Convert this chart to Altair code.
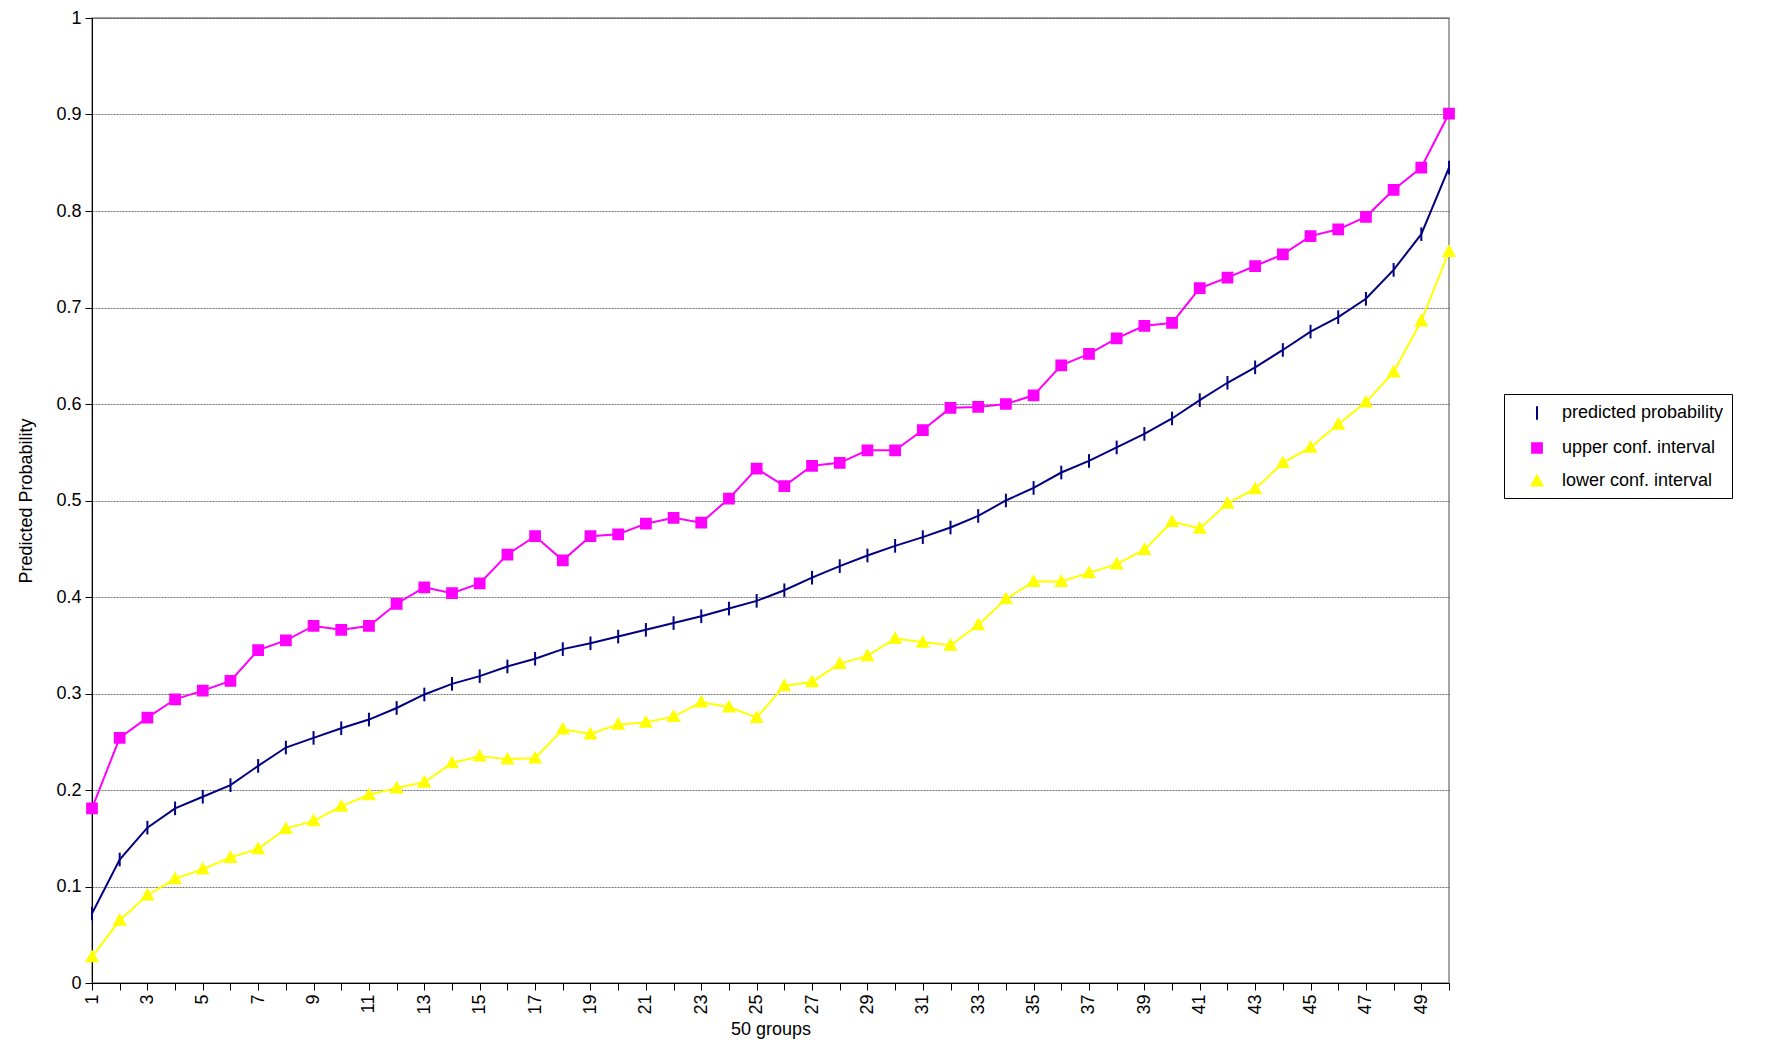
import altair as alt
import pandas as pd

groups = list(range(1, 51))
predicted = [0.072, 0.128, 0.161, 0.181, 0.193, 0.205, 0.225, 0.244, 0.254, 0.264,
             0.273, 0.285, 0.299, 0.310, 0.318, 0.328, 0.336, 0.346, 0.352, 0.359,
             0.366, 0.373, 0.380, 0.388, 0.396, 0.407, 0.420, 0.432, 0.443, 0.453,
             0.462, 0.472, 0.484, 0.500, 0.513, 0.529, 0.541, 0.555, 0.569, 0.585,
             0.604, 0.622, 0.638, 0.656, 0.675, 0.690, 0.709, 0.739, 0.776, 0.845]
upper = [0.181, 0.254, 0.275, 0.294, 0.303, 0.313, 0.345, 0.355, 0.370, 0.366,
         0.370, 0.393, 0.410, 0.404, 0.414, 0.444, 0.463, 0.438, 0.463, 0.465,
         0.476, 0.482, 0.477, 0.502, 0.533, 0.515, 0.536, 0.539, 0.552, 0.552,
         0.573, 0.596, 0.597, 0.600, 0.609, 0.640, 0.652, 0.668, 0.681, 0.684,
         0.720, 0.731, 0.743, 0.755, 0.774, 0.781, 0.794, 0.822, 0.845, 0.901]
lower = [0.027, 0.065, 0.091, 0.108, 0.118, 0.130, 0.139, 0.160, 0.168, 0.183,
         0.195, 0.202, 0.208, 0.228, 0.235, 0.232, 0.233, 0.263, 0.258, 0.268,
         0.270, 0.276, 0.291, 0.286, 0.275, 0.308, 0.312, 0.331, 0.339, 0.357,
         0.353, 0.350, 0.371, 0.398, 0.416, 0.416, 0.425, 0.434, 0.449, 0.478,
         0.471, 0.497, 0.512, 0.539, 0.555, 0.579, 0.602, 0.633, 0.686, 0.758]

series = ["predicted probability", "upper conf. interval", "lower conf. interval"]
colors = ["#000080", "#ff00ff", "#ffff00"]
shapes = ["M0,-0.7V0.7", "M-0.5,-0.5H0.5V0.5H-0.5Z", "M0,-0.55L0.55,0.45H-0.55Z"]

rows = []
for name, vals in zip(series, [predicted, upper, lower]):
    for g, v in zip(groups, vals):
        rows.append({"group": g, "value": v, "series": name})
df = pd.DataFrame(rows)

FONT = "Liberation Sans"
color_scale = alt.Scale(domain=series, range=colors)
legend = alt.Legend(
    title=None, orient="none", legendX=1412, legendY=376,
    strokeColor="black", padding=8, fillColor="white",
    labelFontSize=18, labelFont=FONT, labelColor="black", labelLimit=0,
    symbolSize=380, symbolStrokeWidth=2, rowPadding=13,
    labelOffset=14, symbolOffset=14,
)

base = alt.Chart(df).encode(
    x=alt.X("group:Q", title="50 groups",
            scale=alt.Scale(domain=[1, 50], nice=False, zero=False),
            axis=alt.Axis(values=groups, labelAngle=270, grid=False,
                          labelExpr="datum.value % 2 == 1 ? datum.label : ''",
                          labelAlign="right", labelBaseline="middle")),
    y=alt.Y("value:Q", title="Predicted Probability",
            scale=alt.Scale(domain=[0, 1], nice=False),
            axis=alt.Axis(values=[i / 10 for i in range(11)], format="~g",
                          titlePadding=20,
                          gridColor="#333", gridDash=[2, 1], gridWidth=0.7)),
)

lines = base.mark_line(strokeWidth=2).encode(
    color=alt.Color("series:N", scale=color_scale, sort=series, legend=legend),
    detail="series:N",
)

points = base.mark_point(filled=True, size=380, strokeWidth=2, opacity=1).encode(
    color=alt.Color("series:N", scale=color_scale, sort=series, legend=legend),
    stroke=alt.Stroke("series:N", scale=color_scale, sort=series, legend=legend),
    shape=alt.Shape("series:N", scale=alt.Scale(domain=series, range=shapes),
                    sort=series, legend=legend),
)

chart = (
    alt.layer(lines, points)
    .properties(width=1357, height=965, background="white",
                padding={"left": 9, "top": 1, "right": 5, "bottom": 5})
    .configure_view(stroke="#888", strokeWidth=1.5)
    .configure_axis(labelFont=FONT, titleFont=FONT, labelFontSize=18,
                    titleFontSize=18, titleFontWeight="normal",
                    labelColor="black", titleColor="black",
                    domainColor="black", tickColor="black", tickSize=7,
                    labelPadding=4, titlePadding=6)
)

chart.save("out.html", embed_options={"renderer": "svg", "actions": False})
